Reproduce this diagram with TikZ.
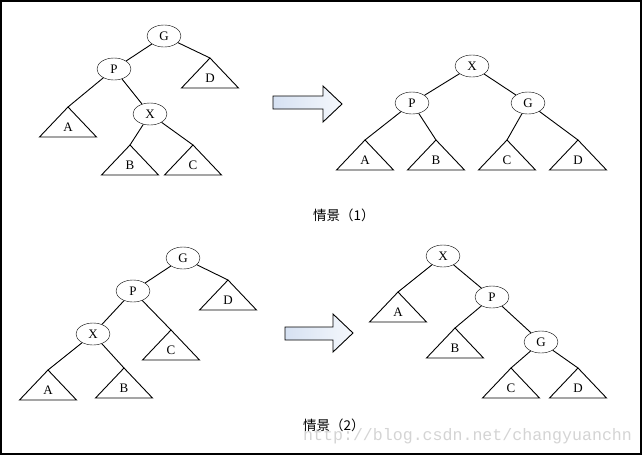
\documentclass[tikz,border=0pt]{standalone}
\usepackage{fontspec}
\setmainfont{Liberation Serif}
\newfontfamily\cjk{Noto Sans CJK SC}
\newfontfamily\wmfont{Liberation Mono}
\usetikzlibrary{shapes.geometric,shapes.arrows,calc}
\tikzset{
  rbnode/.style={draw, ellipse, minimum width=34pt, minimum height=22pt, inner sep=0pt, font=\fontsize{13}{13}\selectfont},
  lbl/.style={inner sep=0pt, font=\fontsize{13}{13}\selectfont},
  edge/.style={line width=0.9pt},
  tri/.style={line width=0.9pt},
  captext/.style={inner sep=0pt, font=\cjk\fontsize{13.5}{14}\selectfont, anchor=west},
  bigarrow/.style={line width=0.9pt, left color={rgb,255:red,214;green,225;blue,242}, right color={rgb,255:red,245;green,248;blue,252}}
}
\newcommand\subtree[4]{%
  \coordinate (#1) at (#2,#3);
  \draw[tri] (#1) -- ++(-28.5,30) -- ++(57,0) -- cycle;
  \node[lbl] (#1l) at ($(#1)+(0,20)$) {#4};
}
\begin{document}
\begin{tikzpicture}[x=1pt,y=-1pt]
\useasboundingbox (0,0) rectangle (644,455);
\draw[line width=1.3pt] (1,1) rectangle (641,454);

% ---------- case 1, before ----------
\node[rbnode] (g1) at (164,36) {G};
\node[rbnode] (p1) at (114,69) {P};
\node[rbnode] (x1) at (150,114) {X};
\subtree{d1}{210}{58}{D}
\subtree{a1}{68}{107}{A}
\subtree{b1}{130}{145}{B}
\subtree{c1}{193}{145}{C}
\draw[edge] (g1) -- (p1);
\draw[edge] (g1) -- (d1);
\draw[edge] (p1) -- (a1);
\draw[edge] (p1) -- (x1);
\draw[edge] (x1) -- (b1);
\draw[edge] (x1) -- (c1);

% arrow 1
\draw[bigarrow] (273,96) -- (323,96) -- (323,86) -- (342,104) -- (323,122) -- (323,109) -- (273,109) -- cycle;

% ---------- case 1, after ----------
\node[rbnode] (x2) at (472,66) {X};
\node[rbnode] (p2) at (412,103) {P};
\node[rbnode] (g2) at (528,103) {G};
\subtree{a2}{365}{140}{A}
\subtree{b2}{436}{140}{B}
\subtree{c2}{507}{140}{C}
\subtree{d2}{578}{140}{D}
\draw[edge] (x2) -- (p2);
\draw[edge] (x2) -- (g2);
\draw[edge] (p2) -- (a2);
\draw[edge] (p2) -- (b2);
\draw[edge] (g2) -- (c2);
\draw[edge] (g2) -- (d2);

\node[captext] (cap1) at (313,215) {情景（1）};

% ---------- case 2, before ----------
\node[rbnode] (g3) at (183,258) {G};
\node[rbnode] (p3) at (133,291) {P};
\node[rbnode] (x3) at (93,334) {X};
\subtree{d3}{228}{280}{D}
\subtree{c3}{171}{330}{C}
\subtree{a3}{48}{370}{A}
\subtree{b3}{124}{368}{B}
\draw[edge] (g3) -- (p3);
\draw[edge] (g3) -- (d3);
\draw[edge] (p3) -- (x3);
\draw[edge] (p3) -- (c3);
\draw[edge] (x3) -- (a3);
\draw[edge] (x3) -- (b3);

% arrow 2
\draw[bigarrow] (285,327) -- (333,327) -- (333,314) -- (353,333) -- (333,352) -- (333,340) -- (285,340) -- cycle;

% ---------- case 2, after ----------
\node[rbnode] (x4) at (443,256) {X};
\node[rbnode] (p4) at (492,297) {P};
\node[rbnode] (g4) at (541,342) {G};
\subtree{a4}{398}{292}{A}
\subtree{b4}{455}{328}{B}
\subtree{c4}{511}{368}{C}
\subtree{d4}{578}{368}{D}
\draw[edge] (x4) -- (a4);
\draw[edge] (x4) -- (p4);
\draw[edge] (p4) -- (b4);
\draw[edge] (p4) -- (g4);
\draw[edge] (g4) -- (c4);
\draw[edge] (g4) -- (d4);

% watermark
\node[inner sep=0pt, anchor=base west, text={rgb,255:red,212;green,212;blue,212}, font=\wmfont\fontsize{16.6}{17}\selectfont] (wm) at (303,440) {http://blog.csdn.net/changyuanchn};
\node[captext] (cap2) at (303,425) {情景（2）};
\end{tikzpicture}
\end{document}
